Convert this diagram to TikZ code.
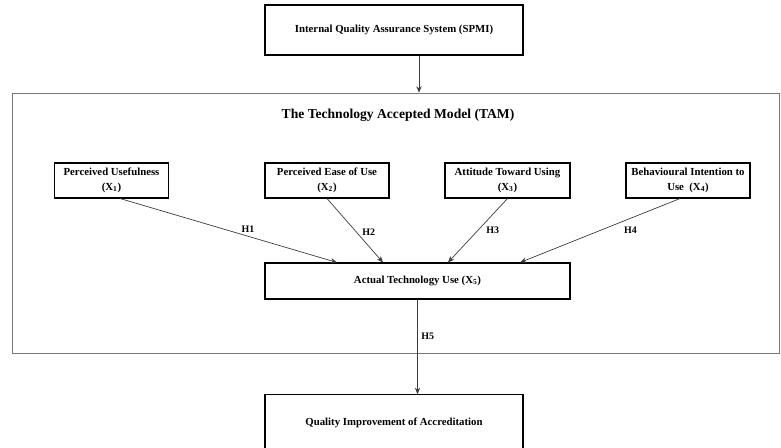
\documentclass[tikz,border=0pt]{standalone}
\usepackage{fontspec}
\setmainfont{Liberation Serif}
\usetikzlibrary{arrows.meta, positioning}
\definecolor{framegray}{RGB}{120,120,120}
\definecolor{linegray}{RGB}{60,60,60}
\tikzstyle{bigbox} = [rectangle, draw=black, line width=0.9pt, minimum width=7.74cm, minimum height=1.5cm, text centered, font=\fontsize{9.2}{11}\selectfont\bfseries]
\tikzstyle{varbox} = [rectangle, draw=black, line width=0.9pt, minimum width=3.6cm, minimum height=1.05cm, align=center, inner sep=1pt, font=\fontsize{9.2}{12.5}\selectfont\bfseries]
\tikzstyle{arrow} = [line width=0.6pt, draw=linegray, -{Stealth[length=5.5pt, width=4.5pt]}]
\tikzstyle{hlabel} = [font=\fontsize{8.5}{10}\selectfont\bfseries, inner sep=3pt]

\begin{document}
\begin{tikzpicture}[x=0.03cm, y=-0.03cm]
\clip (0,0) rectangle (781,448);

% Outer framework
\node[rectangle, draw=framegray, line width=0.6pt, minimum width=23.01cm, minimum height=7.8cm] (tam) at (395.5,223) {};
\node[font=\fontsize{11.6}{13}\selectfont\bfseries] (title) at (398,115) {The Technology Accepted Model (TAM)};

% Input and output
\node[bigbox] (spmi) at (394,30) {Internal Quality Assurance System (SPMI)};
\node[bigbox, minimum height=1.7cm] (qia) at (394,423) {Quality Improvement of Accreditation};

% TAM variables
\node[varbox, minimum width=3.42cm] (pu) at (111.5,180.5) {Perceived Usefulness\\(X\textsubscript{1})};
\node[varbox, minimum width=3.72cm] (peou) at (327,180.5) {Perceived Ease of Use\\(X\textsubscript{2})};
\node[varbox, minimum width=3.75cm] (atu) at (507.5,180.5) {Attitude Toward Using\\(X\textsubscript{3})};
\node[varbox, minimum width=3.72cm] (bi) at (688,180.5) {Behavioural Intention to\\Use~ (X\textsubscript{4})};

% Dependent variable
\node[varbox, minimum width=9.15cm, minimum height=1.08cm] (use) at (417.5,281) {Actual Technology Use (X\textsubscript{5})};

% Arrows
\draw[arrow] ([xshift=0.75cm]spmi.south) -- ([xshift=0.75cm]spmi.south |- tam.north);
\draw[arrow] ([xshift=0.255cm]pu.south) -- node[hlabel, pos=0.59, above] {H1} ([xshift=-2.415cm]use.north);
\draw[arrow] (peou.south) -- node[hlabel, pos=0.52, right=2pt] {H2} ([xshift=-1.035cm]use.north);
\draw[arrow] (atu.south) -- node[hlabel, pos=0.5, right=4pt] {H3} ([xshift=0.915cm]use.north);
\draw[arrow] ([xshift=-0.24cm]bi.south) -- node[hlabel, pos=0.31, below=4pt] {H4} ([xshift=3.075cm]use.north);
\draw[arrow] (use.south) -- node[hlabel, pos=0.39, right] {H5} (use.south |- qia.north);

\end{tikzpicture}
\end{document}
